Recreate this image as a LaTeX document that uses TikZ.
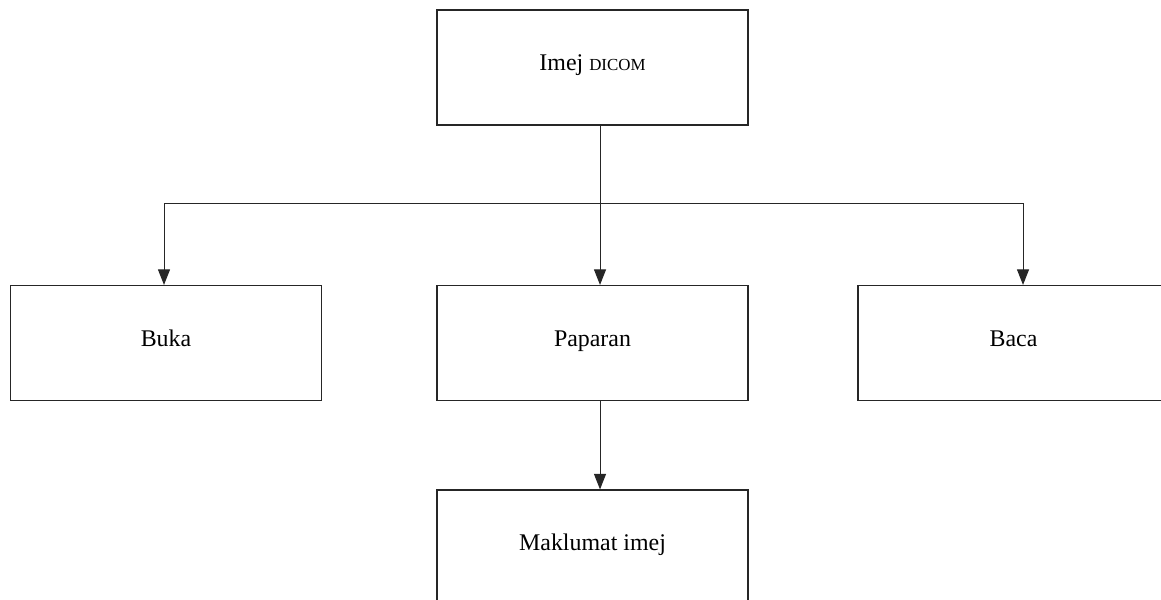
\documentclass[tikz,border=0pt]{standalone}
\usepackage{fontspec}
\setmainfont{Liberation Serif}
\usetikzlibrary{arrows.meta}

\begin{document}
\begin{tikzpicture}[x=0.025cm, y=-0.025cm,
	kotak/.style={draw=black!85, line width=0.8pt, minimum width=7.775cm, minimum height=2.875cm, inner sep=0pt, text height=0.68em, text depth=0.22em, font=\fontsize{17}{20}\selectfont},
	anak/.style={draw=black!85, line width=0.7pt, -{Triangle[length=11pt, width=8.5pt]}}]
			%%%%% START %%%%%
			
			\useasboundingbox (0, 0) rectangle (1161, 599);
			
			\node[kotak] (dicom) at (592.5, 67.5) {Imej {\fontsize{12}{14}\selectfont DICOM}};
			
			\node[kotak] (buka) at (166, 343) {Buka};
			\node[kotak] (paparan) at (592.5, 343) {Paparan};
			\node[kotak] (baca) at (1013.5, 343) {Baca};
			
			\node[kotak] (maklumat) at (592.5, 547.5) {Maklumat imej};
			
			\coordinate (pecah) at (600, 203);
			\coordinate (kiri) at (164, 203);
			\coordinate (kanan) at (1023, 203);
			
			\draw[anak] (dicom.south -| pecah) -- (paparan.north -| pecah);
			\draw[draw=black!85, line width=0.7pt] (kiri) -- (kanan);
			\draw[anak] (kiri) -- (buka.north -| kiri);
			\draw[anak] (kanan) -- (baca.north -| kanan);
			
			\draw[anak] (paparan.south -| pecah) -- (maklumat.north -| pecah);
			
			%%%%% END %%%%%
		\end{tikzpicture}
\end{document}
